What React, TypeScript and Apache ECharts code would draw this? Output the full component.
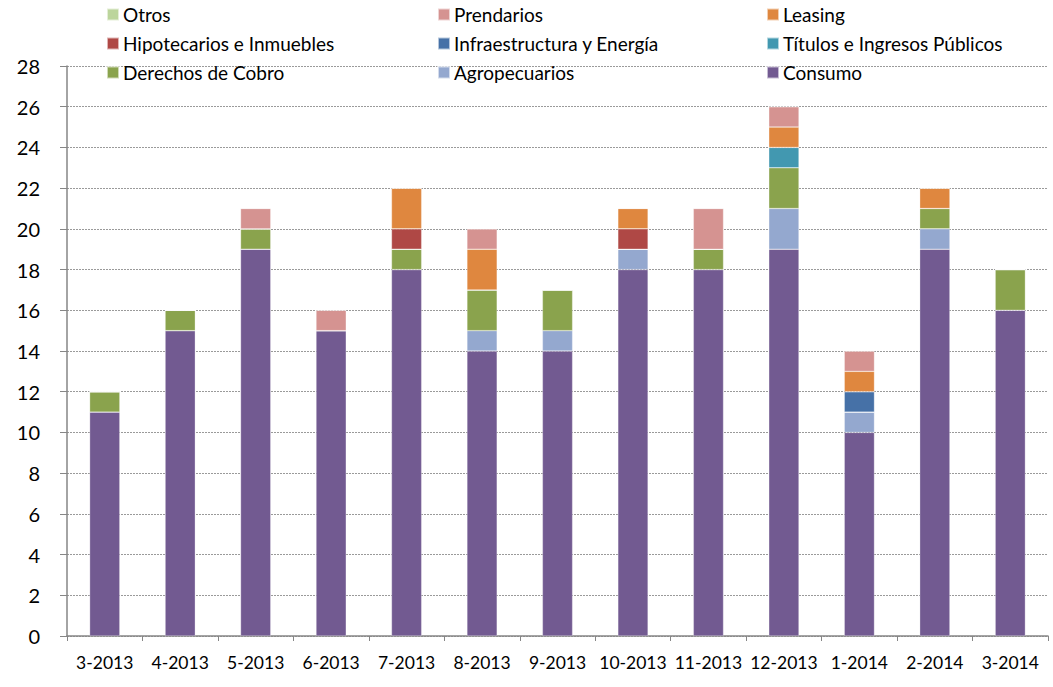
import React, { useEffect, useRef } from "react";
import * as echarts from "echarts";

const categories = ["3-2013", "4-2013", "5-2013", "6-2013", "7-2013", "8-2013", "9-2013", "10-2013", "11-2013", "12-2013", "1-2014", "2-2014", "3-2014"];

const consumo = [11, 15, 19, 15, 18, 14, 14, 18, 18, 19, 10, 19, 16];
const agropecuarios = [0, 0, 0, 0, 0, 1, 1, 1, 0, 2, 1, 1, 0];
const derechos = [1, 1, 1, 0, 1, 2, 2, 0, 1, 2, 0, 1, 2];
const titulos = [0, 0, 0, 0, 0, 0, 0, 0, 0, 1, 0, 0, 0];
const infraestructura = [0, 0, 0, 0, 0, 0, 0, 0, 0, 0, 1, 0, 0];
const hipotecarios = [0, 0, 0, 0, 1, 0, 0, 1, 0, 0, 0, 0, 0];
const leasing = [0, 0, 0, 0, 2, 2, 0, 1, 0, 1, 1, 1, 0];
const prendarios = [0, 0, 1, 1, 0, 1, 0, 0, 2, 1, 1, 0, 0];
const otros = [0, 0, 0, 0, 0, 0, 0, 0, 0, 0, 0, 0, 0];

const yTicks = [0, 2, 4, 6, 8, 10, 12, 14, 16, 18, 20, 22, 24, 26, 28];

const seriesDefs = [
  { name: "Consumo", data: consumo, color: "#725A91" },
  { name: "Agropecuarios", data: agropecuarios, color: "#94A8CF" },
  { name: "Derechos de Cobro", data: derechos, color: "#8AA34D" },
  { name: "Títulos e Ingresos Públicos", data: titulos, color: "#4298B0" },
  { name: "Infraestructura y Energía", data: infraestructura, color: "#4671A7" },
  { name: "Hipotecarios e Inmuebles", data: hipotecarios, color: "#AF4845" },
  { name: "Leasing", data: leasing, color: "#DF873F" },
  { name: "Prendarios", data: prendarios, color: "#D59391" },
  { name: "Otros", data: otros, color: "#BCD59C" },
];

const legendLayout = [
  ["Otros", "Prendarios", "Leasing"],
  ["Hipotecarios e Inmuebles", "Infraestructura y Energía", "Títulos e Ingresos Públicos"],
  ["Derechos de Cobro", "Agropecuarios", "Consumo"],
];

const FONT = "Lato, 'Open Sans', sans-serif";

export default function App() {
  const ref = useRef<HTMLDivElement>(null);
  useEffect(() => {
    if (!ref.current) return;
    const chart = echarts.init(ref.current, undefined, { renderer: "svg" });
    const colX = [106, 437, 766];
    const rowY = [5, 34, 63];
    const legends: any[] = [];
    legendLayout.forEach((row, r) =>
      row.forEach((name, c) => {
        legends.push({
          data: [name],
          left: colX[c],
          top: rowY[r],
          itemWidth: 12,
          itemHeight: 12,
          itemGap: 4,
          padding: 0,
          icon: "rect",
          selectedMode: false,
          textStyle: { fontFamily: FONT, fontSize: 19, color: "#000", padding: [0, 0, 0, -1] },
        });
      })
    );
    chart.setOption({
      animation: false,
      backgroundColor: "#fff",
      legend: legends,
      grid: { left: 67, right: 5, top: 66, bottom: 51, containLabel: false },
      xAxis: {
        type: "category",
        data: categories,
        axisLine: { lineStyle: { color: "#868686", width: 1.5 } },
        axisTick: { show: true, alignWithLabel: false, interval: 0, length: 5, lineStyle: { color: "#868686" } },
        axisLabel: { fontFamily: FONT, fontSize: 17.5, color: "#000", margin: 17, interval: 0, hideOverlap: false },
      },
      yAxis: {
        type: "value",
        min: 0,
        max: 28,
        interval: 2,
        axisLine: { show: true, lineStyle: { color: "#868686", width: 1.5 } },
        axisTick: { show: true, length: 7, lineStyle: { color: "#868686" } },
        axisLabel: {
          fontFamily: FONT,
          fontSize: 20,
          color: "#000",
          margin: 27,
          formatter: (v: number) => (yTicks.includes(v) ? String(v) : ""),
        },
        splitLine: { show: true, lineStyle: { color: "#9a9a9a", type: [2, 1], width: 1 } },
      },
      series: seriesDefs.map((s) => ({
        name: s.name,
        type: "bar",
        stack: "total",
        data: s.data,
        barWidth: "40%",
        itemStyle: { color: s.color, borderColor: "rgba(255,255,255,0.6)", borderWidth: 0.5 },
      })),
    });
    return () => chart.dispose();
  }, []);
  return <div ref={ref} style={{ width: 1053, height: 687, position: "absolute", left: 0, top: 0 }} />;
}
